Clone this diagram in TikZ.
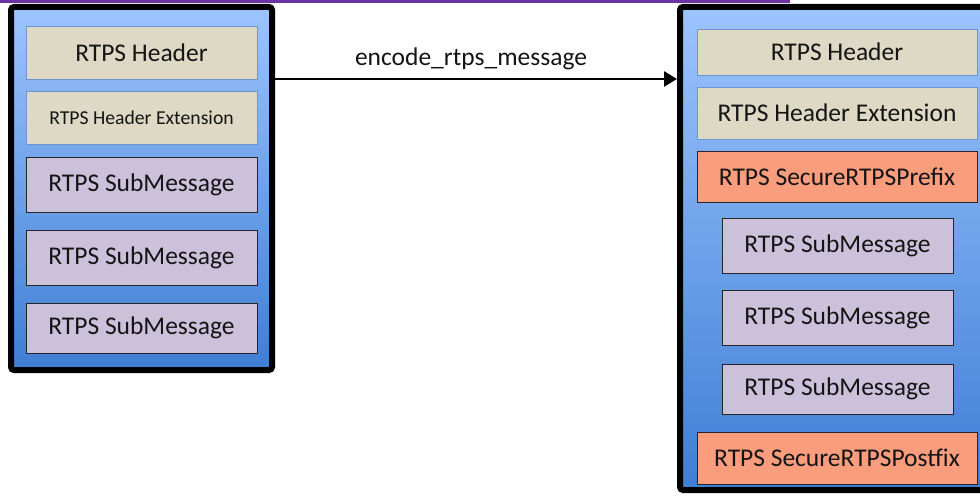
\documentclass[tikz,border=0pt]{standalone}
\usepackage{fontspec}
\setmainfont{Carlito}
\usetikzlibrary{arrows.meta,calc}
\definecolor{bluetop}{RGB}{157,196,255}
\definecolor{bluebot}{RGB}{62,126,212}
\definecolor{hdrfill}{RGB}{221,217,196}
\definecolor{hdrline}{RGB}{110,150,205}
\definecolor{subfill}{RGB}{204,193,218}
\definecolor{secfill}{RGB}{250,157,125}
\definecolor{topbar}{RGB}{108,52,160}
\tikzset{
  container/.style={draw=black, line width=6pt, rounded corners=3pt,
    top color=bluetop, bottom color=bluebot, inner sep=0pt},
  inbox/.style={line width=0.9pt, inner sep=0pt, align=center,
    font=\fontsize{25.5pt}{30pt}\selectfont, text=black!92},
  hdrbox/.style={inbox, draw=hdrline, fill=hdrfill},
  subbox/.style={inbox, draw=black!85, fill=subfill},
  secbox/.style={inbox, draw=black!85, fill=secfill},
  flowarrow/.style={line width=2.6pt, -{Triangle[length=13pt,width=15pt]}},
  lbltext/.style={font=\fontsize{25.5pt}{30pt}\selectfont, text=black!92, inner sep=0pt}
}
\begin{document}
\begin{tikzpicture}[x=1pt,y=-1pt]
\useasboundingbox (0,0) rectangle (980,497);
\fill[topbar] (0,0) rectangle (790,3);
% left container
\node[container, minimum width=261pt, minimum height=363pt] (lbox) at (141.5,188.5) {};
\node[hdrbox, minimum width=231pt, minimum height=53pt] (lh) at (141.5,52.5) {RTPS Header};
\node[hdrbox, minimum width=231pt, minimum height=53pt, font=\fontsize{19.7pt}{24pt}\selectfont] (lext) at (141.5,117.5) {RTPS Header Extension};
\node[subbox, minimum width=231pt, minimum height=55pt] (ls1) at (141.5,184.5) {RTPS SubMessage};
\node[subbox, minimum width=231pt, minimum height=55pt] (ls2) at (141.5,257.5) {RTPS SubMessage};
\node[subbox, minimum width=231pt, minimum height=50pt] (ls3) at (141.5,328) {RTPS SubMessage};
% right container
\node[container, minimum width=310pt, minimum height=483pt] (rbox) at (835,248.5) {};
\node[hdrbox, minimum width=280pt, minimum height=46pt] (rh) at (837,52) {RTPS Header};
\node[hdrbox, minimum width=280pt, minimum height=52pt] (rext) at (837,113) {RTPS Header Extension};
\node[secbox, minimum width=280pt, minimum height=51pt] (rpre) at (837,176.5) {RTPS SecureRTPSPrefix};
\node[subbox, minimum width=231pt, minimum height=55pt] (rs1) at (837.5,245.5) {RTPS SubMessage};
\node[subbox, minimum width=231pt, minimum height=55pt] (rs2) at (837.5,317.5) {RTPS SubMessage};
\node[subbox, minimum width=231pt, minimum height=50pt] (rs3) at (837.5,389) {RTPS SubMessage};
\node[secbox, minimum width=280pt, minimum height=52pt] (rpost) at (837,458) {RTPS SecureRTPSPostfix};
% arrow
\coordinate (a1) at ([yshift=-75pt]lbox.north east);
\draw[flowarrow] (a1) -- (a1 -| rbox.west);
\path (a1) -- (a1 -| rbox.west) node[midway, above=9pt, xshift=-5pt, lbltext] (lbl) {encode\_rtps\_message};
\end{tikzpicture}
\end{document}
